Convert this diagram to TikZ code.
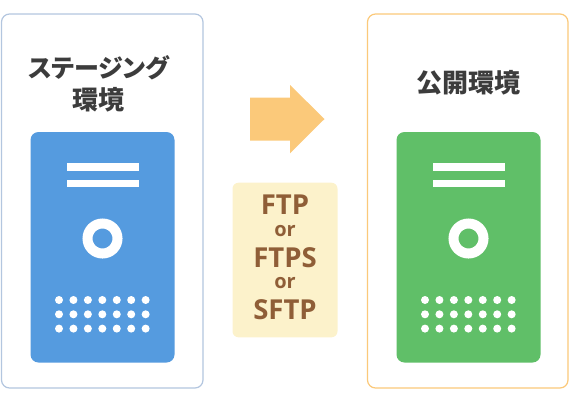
\documentclass[tikz,border=0pt]{standalone}
\usepackage{fontspec}
\usepackage{xcolor}
\usepackage{tikz}
\usetikzlibrary{positioning, calc}
\setmainfont{Open Sans}
\newfontfamily\cjk[RawFeature={+palt}]{Noto Sans CJK JP}
\definecolor{stagingblue}{HTML}{559BDF}
\definecolor{publicgreen}{HTML}{60BF68}
\definecolor{stagingline}{HTML}{B3C6DF}
\definecolor{arroworange}{HTML}{FBC97A}
\definecolor{labelcream}{HTML}{FCF2CB}
\definecolor{labelbrown}{HTML}{8F5E37}
\definecolor{titlegray}{HTML}{3C3C3C}
\tikzset{
    envframe/.style={line width=1.2pt, rounded corners=8pt, fill=white},
    servercase/.style={rounded corners=8pt},
    envtitle/.style={font=\cjk\bfseries\fontsize{26}{32}\selectfont, text=titlegray, align=center},
    protolarge/.style={font=\bfseries\fontsize{27.5}{27.5}\selectfont, text=labelbrown},
    protosmall/.style={font=\bfseries\fontsize{20}{20}\selectfont, text=labelbrown}
}
\begin{document}
\begin{tikzpicture}[x=1pt,y=-1pt]
    \useasboundingbox (0,0) rectangle (570,402);

    % Frames
    \draw[envframe, draw=stagingline] (1.5,14) rectangle (203,388);
    \draw[envframe, draw=arroworange] (367.5,14) rectangle (568,388);

    % Titles
    \node[envtitle] (stagingtitle) at (99,84) {\fontsize{25}{32}\selectfont ステージング\\環境};
    \node[envtitle] (publictitle) at (468.5,83) {公開環境};

    % Servers
    \foreach \x/\col in {0/stagingblue, 366/publicgreen} {
        \begin{scope}[xshift=\x pt]
            \fill[\col, servercase] (30.5,132) rectangle (174.5,362.5);
            \fill[white] (66.5,163) rectangle (138.5,171);
            \fill[white] (66.5,180) rectangle (138.5,187);
            \draw[white, line width=10pt] (102.5,238.5) circle (15);
            \foreach \i in {0,...,6} {
                \foreach \y in {300,314.3,328.6} {
                    \fill[white] (59+14.44*\i,\y) circle (4);
                }
            }
        \end{scope}
    }

    % Arrow
    \fill[arroworange] (250,97.7) -- (290,97.7) -- (290,85) -- (324.5,119)
        -- (290,153.3) -- (290,140.7) -- (250,140.7) -- cycle;

    % Protocols
    \fill[labelcream, rounded corners=6pt] (232.5,182.7) rectangle (337.5,337.3);
    \node[protolarge] (ftp) at (285,205) {FTP};
    \node[protosmall] (orfirst) at (285,231) {or};
    \node[protolarge] (ftps) at (285,258) {FTPS};
    \node[protosmall] (orsecond) at (285,283) {or};
    \node[protolarge] (sftp) at (285,310) {SFTP};
\end{tikzpicture}
\end{document}
